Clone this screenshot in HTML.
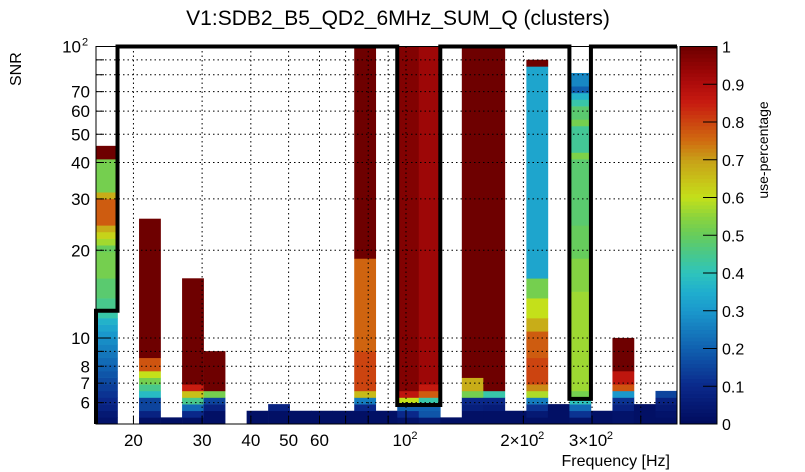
<!DOCTYPE html>
<html><head><meta charset="utf-8"><style>
html,body{margin:0;padding:0;background:#fff;}
svg{display:block;font-family:"Liberation Sans",sans-serif;}
</style></head><body>
<svg id="c" width="805" height="472" viewBox="0 0 805 472" xmlns="http://www.w3.org/2000/svg">
<rect width="805" height="472" fill="#fff"/>
<g id="cells"></g><g id="grid"></g><g id="thr"></g><g id="axes"></g><g id="cbar"></g>
<text x="398" y="25" text-anchor="middle" font-size="21">V1:SDB2_B5_QD2_6MHz_SUM_Q (clusters)</text>
<text transform="translate(21,86) rotate(-90)" font-size="16">SNR</text>
<text x="670" y="466" text-anchor="end" font-size="16">Frequency [Hz]</text>
<text transform="translate(768,150) rotate(-90)" text-anchor="middle" font-size="14">use-percentage</text>
</svg>
<script>
// ---- data ----
const xLogMin = 1.205, xLogMax = 2.695;
const yLogMin = 0.705, yLogMax = 2;
const nCols = 27, nRows = 57;
// per-column run-length data: [rowCount, value]; value null = empty
const col00 = [[1,0.03],[1,0.05],[1,0.08],[1,0.1],[1,0.12],[1,0.14],[1,0.16],[1,0.18],[1,0.2],[1,0.22],[1,0.24],[1,0.26],[1,0.28],[1,0.3],[1,0.33],[1,0.36],[1,0.42],[2,0.45],[3,0.48],[4,0.52],[1,0.5],[1,0.57],[1,0.62],[1,0.68],[4,0.77],[1,0.68],[5,0.52],[2,1]];
const col01 = [];
const col02 = [[1,0.02],[1,0.08],[2,0.15],[1,0.38],[1,0.45],[1,0.52],[1,0.6],[2,0.78],[21,1]];
const col03 = [[1,0.02]];
const col04 = [[1,0.02],[1,0.1],[1,0.22],[1,0.45],[1,0.65],[1,0.85],[16,1]];
const col05 = [[2,0.02],[1,0.08],[1,0.15],[1,0.52],[6,1]];
const col06 = [];
const col07 = [[2,0.02]];
const col08 = [[2,0.02],[1,0.08]];
const col09 = [[2,0.02]];
const col10 = [[2,0.02]];
const col11 = [[2,0.02]];
const col12 = [[2,0.02],[1,0.1],[1,0.25],[1,0.66],[6,0.8],[14,0.76],[32,1]];
const col13 = [[2,0.02]];
const col14 = [[1,0.03],[1,0.1],[1,0.2],[1,0.6],[1,0.87],[52,0.97]];
const col15 = [[1,0.05],[1,0.18],[1,0.2],[1,0.42],[1,0.77],[1,0.86],[51,0.93]];
const col16 = [[1,0.02]];
const col17 = [[2,0.02],[1,0.07],[1,0.1],[1,0.52],[2,0.68],[50,1]];
const col18 = [[2,0.02],[1,0.06],[1,0.1],[1,0.42],[52,1]];
const col19 = [[2,0.02]];
const col20 = [[1,0.02],[1,0.05],[1,0.12],[1,0.25],[1,0.58],[1,0.72],[4,0.8],[4,0.77],[2,0.68],[3,0.6],[3,0.52],[32,0.33],[1,1]];
const col21 = [[3,0.02]];
const col22 = [[1,0.03],[1,0.12],[1,0.22],[1,0.4],[1,0.52],[15,0.565],[5,0.54],[5,0.5],[10,0.48],[1,0.53],[4,0.44],[1,0.52],[2,0.48],[1,0.42],[1,0.36],[1,0.2],[2,0.27]];
const col23 = [[2,0.02]];
const col24 = [[2,0.03],[1,0.08],[1,0.12],[1,0.3],[1,0.78],[2,0.87],[5,1]];
const col25 = [[3,0.02]];
const col26 = [[1,0.02],[1,0.03],[1,0.05],[1,0.08],[1,0.15]];
const columns = [col00,col01,col02,col03,col04,col05,col06,col07,col08,col09,col10,col11,col12,col13,col14,col15,col16,col17,col18,col19,col20,col21,col22,col23,col24,col25,col26];
// threshold (SNR) per column
const threshold = [12.4,200,200,200,200,200,200,200,200,200,200,200,200,200,5.89,5.89,200,200,200,200,200,200,6.18,200,200,200,200];
const yTicksMajor = [10,100];
const yTickLabels = [[6,"6"],[7,"7"],[8,"8"],[10,"10"],[20,"20"],[30,"30"],[40,"40"],[50,"50"],[60,"60"],[70,"70"]];
const yGridVals = [6,7,8,9,10,20,30,40,50,60,70,80,90];
const xTickLabels = [[20,"20"],[30,"30"],[40,"40"],[50,"50"],[60,"60"]];
const xGridVals = [20,30,40,50,60,70,80,90,100,200,300,400];
const cbarTicks = [0,0.1,0.2,0.3,0.4,0.5,0.6,0.7,0.8,0.9,1];
// ---- geometry ----
const X0=96,X1=677,Y0=424,Y1=46.5;
const NS="http://www.w3.org/2000/svg";
function xs(f){return X0+(Math.log10(f)-xLogMin)/(xLogMax-xLogMin)*(X1-X0);}
function ys(v){return Y0-(Math.log10(v)-yLogMin)/(yLogMax-yLogMin)*(Y0-Y1);}
function colX(i){return X0+i*(X1-X0)/nCols;}
function rowY(k){return Y0-k*(Y0-Y1)/nRows;}
const stops=[[0,[0,10,92]],[0.1,[10,40,138]],[0.2,[16,96,176]],[0.3,[26,152,204]],[0.35,[32,174,206]],[0.4,[46,196,188]],[0.45,[72,200,140]],[0.5,[102,204,92]],[0.55,[140,212,60]],[0.6,[196,224,26]],[0.65,[200,192,24]],[0.7,[200,160,24]],[0.75,[208,108,16]],[0.8,[204,68,16]],[0.85,[200,28,16]],[0.9,[176,12,12]],[0.95,[144,4,4]],[1,[110,0,0]]];
function cmap(v){for(let i=1;i<stops.length;i++){if(v<=stops[i][0]){const a=stops[i-1],b=stops[i];const t=(v-a[0])/(b[0]-a[0]);const c=a[1].map((q,j)=>Math.round(q+(b[1][j]-q)*t));return `rgb(${c[0]},${c[1]},${c[2]})`;}}return 'rgb(110,0,0)';}
function mk(tag,attrs,parent){const e=document.createElementNS(NS,tag);for(const k in attrs)e.setAttribute(k,attrs[k]);parent.appendChild(e);return e;}
const gCells=document.getElementById('cells');
columns.forEach((runs,i)=>{let k=0;runs.forEach(r=>{const [n,v]=r;if(v!==null){const y1=rowY(k+n),y2=rowY(k);const el=mk('rect',{x:colX(i),y:y1,width:colX(i+1)-colX(i)+0.3,height:y2-y1+0.3,fill:cmap(v)},gCells);

}k+=n;});});
const gGrid=document.getElementById('grid');
xGridVals.forEach(f=>{const x=xs(f);const l=mk('line',{x1:x,x2:x,y1:Y1,y2:Y0,stroke:'#000','stroke-width':1,'stroke-dasharray':'1.5,3'},gGrid);

});
yGridVals.forEach(v=>{const y=ys(v);const l=mk('line',{x1:X0,x2:X1,y1:y,y2:y,stroke:'#000','stroke-width':1,'stroke-dasharray':'1.5,3'},gGrid);

});
// threshold step line
let pts=[[X0,Y0]];threshold.forEach((t,i)=>{const y=Math.max(ys(Math.min(t,100)),Y1);pts.push([colX(i),y]);pts.push([colX(i+1),y]);});
const pl=mk('polyline',{points:pts.map(p=>p.join(',')).join(' '),fill:'none',stroke:'#000','stroke-width':4,'stroke-linejoin':'miter'},document.getElementById('thr'));


// axes
const gA=document.getElementById('axes');
const fr=mk('rect',{x:X0,y:Y1,width:X1-X0,height:Y0-Y1,fill:'none',stroke:'#000','stroke-width':1},gA);


yGridVals.concat([100]).forEach(v=>{const y=ys(v);mk('line',{x1:X0,x2:X0+(yTicksMajor.includes(v)?14:8),y1:y,y2:y,stroke:'#000'},gA);});
yTickLabels.forEach(([v,s])=>{const t=mk('text',{x:X0-6,y:ys(v)+6,'text-anchor':'end','font-size':17},gA);t.textContent=s;

});
const t100=mk('text',{x:X0-15,y:ys(100)+6,'text-anchor':'end','font-size':17},gA);t100.textContent='10';


const s100=mk('text',{x:X0-14,y:ys(100)-1,'font-size':11},gA);s100.textContent='2';
xGridVals.forEach(f=>{const x=xs(f);mk('line',{x1:x,x2:x,y1:Y0,y2:Y0-((f===100)?14:8),stroke:'#000'},gA);});
xTickLabels.forEach(([f,s])=>{const t=mk('text',{x:xs(f),y:446,'text-anchor':'middle','font-size':17},gA);t.textContent=s;

});
[[100,'10','2'],[200,'2\u00d710','2'],[300,'3\u00d710','2']].forEach(([f,s,e])=>{const t=mk('text',{x:xs(f)-4,y:446,'text-anchor':'middle','font-size':17},gA);t.textContent=s;


const w=s.length*4.7;const sp=mk('text',{x:xs(f)-4+w,y:439,'font-size':11},gA);sp.textContent=e;});
// colorbar
const gC=document.getElementById('cbar');const CX0=680,CX1=717;
for(let i=0;i<100;i++){const v=(i+0.5)/100;const yA=Y0-(i+1)/100*(Y0-Y1),yB=Y0-i/100*(Y0-Y1);mk('rect',{x:CX0,y:yA,width:CX1-CX0,height:yB-yA+0.4,fill:cmap(v)},gC);}
const cb=mk('rect',{x:CX0,y:Y1,width:CX1-CX0,height:Y0-Y1,fill:'none',stroke:'#000'},gC);


cbarTicks.forEach(v=>{const y=Y0-v*(Y0-Y1);mk('line',{x1:CX1-14,x2:CX1,y1:y,y2:y,stroke:'#000'},gC);const t=mk('text',{x:CX1+5,y:y+6,'font-size':16},gC);t.textContent=String(v);

});
</script>
</body></html>
